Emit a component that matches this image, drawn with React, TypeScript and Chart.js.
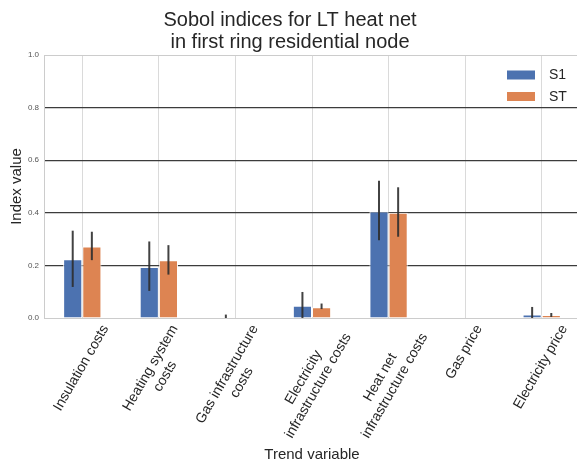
import React, { useEffect, useRef } from 'react';
import { Chart, registerables } from 'chart.js';

Chart.register(...registerables);

const FONT = "'Liberation Sans', Arial, sans-serif";

const titleLines = ['Sobol indices for LT heat net', 'in first ring residential node'];
const xTitle = 'Trend variable';
const yTitle = 'Index value';

const categories: string[][] = [
  ['Insulation costs'],
  ['Heating system', 'costs'],
  ['Gas infrastructure', 'costs'],
  ['Electricity', 'infrastructure costs'],
  ['Heat net', 'infrastructure costs'],
  ['Gas price'],
  ['Electricity price'],
];

const seriesNames = ['S1', 'ST'];
const seriesColors = ['#4C72B0', '#DD8452'];

const s1Values = [0.223, 0.194, 0.0, 0.047, 0.405, 0.0, 0.013];
const s1Low = [0.118, 0.103, -0.012, -0.005, 0.296, 0.0, -0.016];
const s1High = [0.332, 0.291, 0.013, 0.099, 0.522, 0.0, 0.042];

const stValues = [0.272, 0.22, 0.0, 0.041, 0.4, 0.0, 0.011];
const stLow = [0.22, 0.165, 0.0, 0.034, 0.309, 0.0, 0.004];
const stHigh = [0.328, 0.277, 0.0, 0.055, 0.497, 0.0, 0.019];

const yTickValues = [0, 0.2, 0.4, 0.6, 0.8, 1.0];

const errorLows = [s1Low, stLow];
const errorHighs = [s1High, stHigh];

const errorBarPlugin = {
  id: 'errorBars',
  afterDatasetsDraw(chart: any) {
    const { ctx, chartArea } = chart;
    const ys = chart.scales.y;
    ctx.save();
    ctx.beginPath();
    ctx.rect(chartArea.left, chartArea.top, chartArea.right - chartArea.left, chartArea.bottom - chartArea.top);
    ctx.clip();
    ctx.strokeStyle = 'rgba(45,45,45,0.9)';
    ctx.lineWidth = 2;
    ctx.lineCap = 'butt';
    chart.data.datasets.forEach((_ds: any, d: number) => {
      const meta = chart.getDatasetMeta(d);
      meta.data.forEach((bar: any, i: number) => {
        const lo = errorLows[d][i];
        const hi = errorHighs[d][i];
        if (lo === hi) return;
        ctx.beginPath();
        ctx.moveTo(bar.x, ys.getPixelForValue(lo));
        ctx.lineTo(bar.x, ys.getPixelForValue(hi));
        ctx.stroke();
      });
    });
    ctx.restore();
  },
};

const xLabelPlugin = {
  id: 'xLabels',
  afterDraw(chart: any) {
    const { ctx, chartArea } = chart;
    const xs = chart.scales.x;
    const ang = (60 * Math.PI) / 180;
    const lh = 16.8;
    ctx.save();
    ctx.font = `14px ${FONT}`;
    ctx.fillStyle = '#262626';
    ctx.textAlign = 'center';
    ctx.textBaseline = 'middle';
    categories.forEach((lines, i) => {
      const w = Math.max(...lines.map((l) => ctx.measureText(l).width));
      const h = lines.length * lh;
      const bh = w * Math.sin(ang) + h * Math.cos(ang);
      const cx = xs.getPixelForValue(i) - 1;
      const cy = chartArea.bottom + 4 + bh / 2;
      ctx.save();
      ctx.translate(cx, cy);
      ctx.rotate(-ang);
      lines.forEach((l, j) => ctx.fillText(l, 0, (j - (lines.length - 1) / 2) * lh));
      ctx.restore();
    });
    ctx.restore();
  },
};

const legendPlugin = {
  id: 'customLegend',
  afterDraw(chart: any) {
    const { ctx, chartArea } = chart;
    ctx.save();
    ctx.font = `14px ${FONT}`;
    ctx.textBaseline = 'middle';
    ctx.textAlign = 'left';
    chart.data.datasets.forEach((ds: any, d: number) => {
      const cy = chartArea.top + 20 + d * 21.5;
      ctx.fillStyle = ds.backgroundColor;
      ctx.fillRect(chartArea.right - 73, cy - 4.5, 28, 9);
      ctx.fillStyle = '#262626';
      ctx.fillText(ds.label, chartArea.right - 31, cy + 0.5);
    });
    ctx.restore();
  },
};

export default function App() {
  const ref = useRef<HTMLCanvasElement | null>(null);
  useEffect(() => {
    if (!ref.current) return;
    Chart.defaults.font.family = FONT;
    const chart = new Chart(ref.current, {
      type: 'bar',
      data: {
        labels: categories.map((c) => c.join(' ')),
        datasets: [
          {
            label: seriesNames[0],
            data: s1Values,
            backgroundColor: seriesColors[0],
            borderColor: 'rgba(255,255,255,0.9)',
            borderWidth: 1,
            categoryPercentage: 0.5,
            barPercentage: 1.0,
          },
          {
            label: seriesNames[1],
            data: stValues,
            backgroundColor: seriesColors[1],
            borderColor: 'rgba(255,255,255,0.9)',
            borderWidth: 1,
            categoryPercentage: 0.5,
            barPercentage: 1.0,
          },
        ],
      },
      options: {
        responsive: false,
        animation: false,
        layout: { padding: { left: 0, right: 2, top: 0, bottom: 0 } },
        plugins: {
          legend: { display: false },
          tooltip: { enabled: false },
          title: {
            display: true,
            text: titleLines,
            color: '#262626',
            font: { size: 20, family: FONT, weight: 'normal', lineHeight: 1.125 },
            padding: { top: 9, bottom: 1 },
          },
        },
        scales: {
          x: {
            grid: { display: true, offset: false, color: '#dadada', lineWidth: 1, drawTicks: false },
            border: { display: true, color: '#cccccc', width: 1 },
            ticks: { display: false },
            title: {
              display: true,
              text: xTitle,
              color: '#262626',
              font: { size: 15, family: FONT, lineHeight: 1.2 },
              padding: { top: 0, bottom: 0 },
            },
            afterFit(scale: any) {
              scale.height = 146;
            },
          },
          y: {
            min: 0,
            max: 1,
            afterBuildTicks(scale: any) {
              scale.ticks = yTickValues.map((v) => ({ value: v }));
            },
            grid: {
              drawTicks: false,
              lineWidth: (c: any) => (Math.abs(c.tick.value) < 1e-6 || Math.abs(c.tick.value - 1) < 1e-6 ? 1 : 1.3),
              color: (c: any) => (Math.abs(c.tick.value) < 1e-6 || Math.abs(c.tick.value - 1) < 1e-6 ? '#cccccc' : '#3c3c3c'),
            },
            border: { display: true, color: '#cccccc', width: 1 },
            ticks: {
              padding: 5,
              color: '#555555',
              font: { size: 8, family: FONT },
              callback: (v: any) => Number(v).toFixed(1),
            },
            title: {
              display: true,
              text: yTitle,
              color: '#262626',
              font: { size: 15, family: FONT, lineHeight: 1.2 },
              padding: { top: 8, bottom: 0 },
            },
            afterFit(scale: any) {
              scale.width = 44;
            },
          },
        },
      },
      plugins: [errorBarPlugin, xLabelPlugin, legendPlugin],
    } as any);
    return () => chart.destroy();
  }, []);

  return (
    <div style={{ position: 'fixed', left: 0, top: 0, width: 577, height: 464, overflow: 'hidden', background: '#fff' }}>
      <canvas ref={ref} width={582} height={464} style={{ display: 'block', width: 582, height: 464 }} />
    </div>
  );
}
